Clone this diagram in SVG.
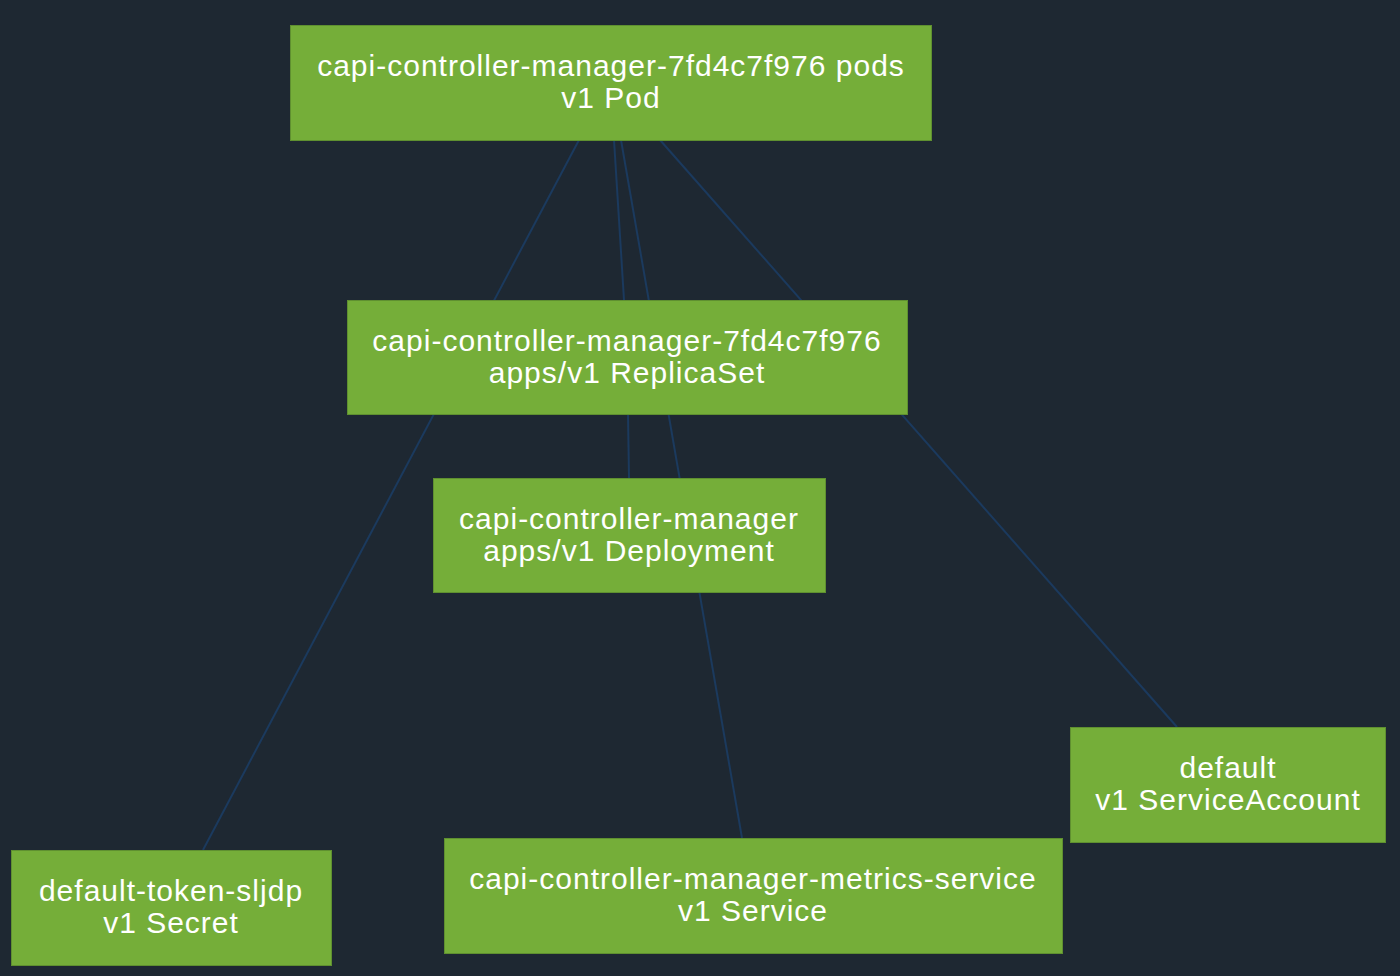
<svg xmlns="http://www.w3.org/2000/svg" width="1400" height="976" viewBox="0 0 1400 976">
<style>
.node rect{fill:#75ae39;stroke:#5f9030;stroke-width:1}
.node text{font-family:"Liberation Sans",Arial,sans-serif;font-size:30px;letter-spacing:1px;fill:#ffffff;text-anchor:middle}
.edges line{stroke:#1b3a5e;stroke-width:2}
</style>
<rect x="0" y="0" width="1400" height="976" fill="#1e2832"/>
<g id="connectors" class="edges">
<line x1="579" y1="140" x2="203" y2="850"/>
<line x1="614" y1="140" x2="624" y2="300"/>
<line x1="628" y1="414" x2="629" y2="478"/>
<line x1="621" y1="140" x2="742" y2="838"/>
<line x1="660" y1="140" x2="1177" y2="727"/>
</g>
<g id="pod" class="node">
<rect x="290.5" y="25.5" width="641" height="115"/>
<text x="611" y="76">capi-controller-manager-7fd4c7f976 pods</text>
<text x="611" y="108">v1 Pod</text>
</g>
<g id="replicaset" class="node">
<rect x="347.5" y="300.5" width="560" height="114"/>
<text x="627" y="351">capi-controller-manager-7fd4c7f976</text>
<text x="627" y="383">apps/v1 ReplicaSet</text>
</g>
<g id="deployment" class="node">
<rect x="433.5" y="478.5" width="392" height="114"/>
<text x="629" y="529">capi-controller-manager</text>
<text x="629" y="561">apps/v1 Deployment</text>
</g>
<g id="secret" class="node">
<rect x="11.5" y="850.5" width="320" height="115"/>
<text x="171" y="901">default-token-sljdp</text>
<text x="171" y="933">v1 Secret</text>
</g>
<g id="service" class="node">
<rect x="444.5" y="838.5" width="618" height="115"/>
<text x="753" y="889">capi-controller-manager-metrics-service</text>
<text x="753" y="921">v1 Service</text>
</g>
<g id="serviceaccount" class="node">
<rect x="1070.5" y="727.5" width="315" height="115"/>
<text x="1228" y="778">default</text>
<text x="1228" y="810">v1 ServiceAccount</text>
</g>
</svg>
